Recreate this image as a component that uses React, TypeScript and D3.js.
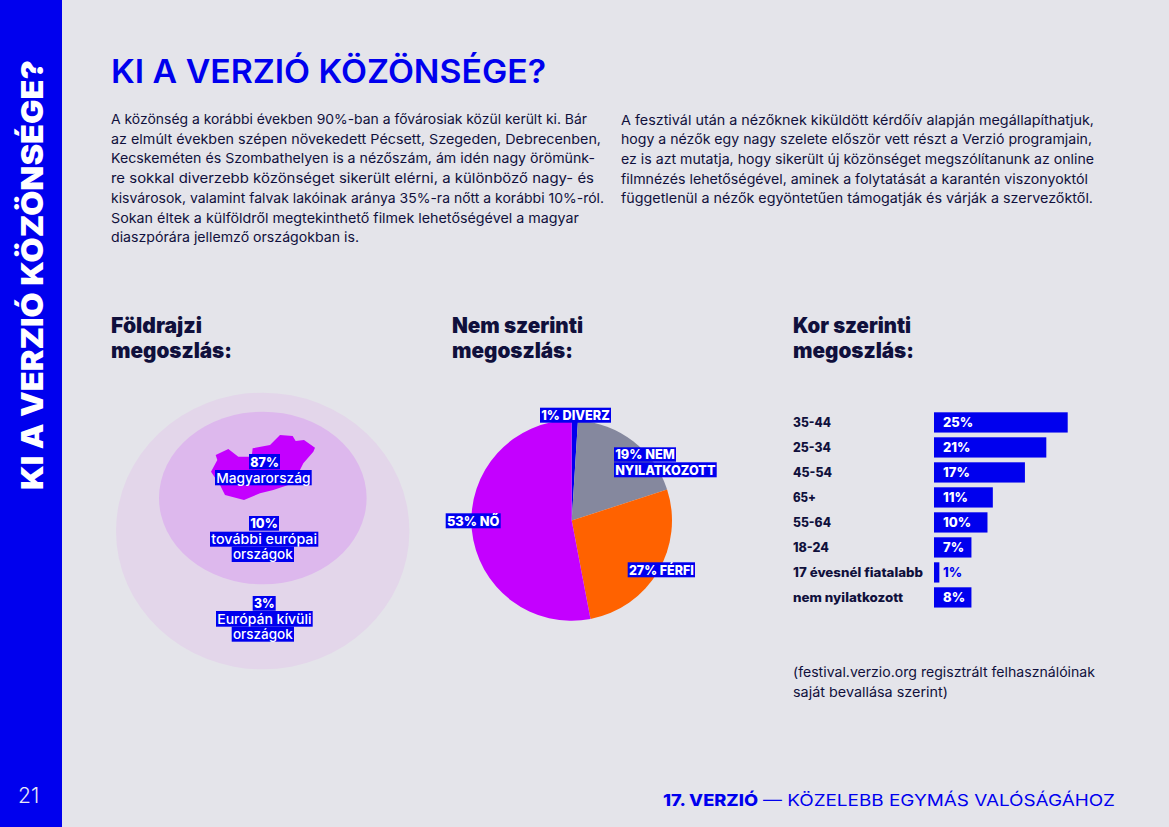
import React from "react";
import * as d3 from "d3";

const BLUE = "#0000EE";
const INK = "#10103C";
const FONT = "Inter, 'Noto Sans', sans-serif";

const leftParagraph: [string, number][] = [
  ["A közönség a korábbi években 90%-ban a fővárosiak közül került ki. Bár", 476],
  ["az elmúlt években szépen növekedett Pécsett, Szegeden, Debrecenben,", 490],
  ["Kecskeméten és Szombathelyen is a nézőszám, ám idén nagy örömünk-", 484],
  ["re sokkal diverzebb közönséget sikerült elérni, a különböző nagy- és", 483],
  ["kisvárosok, valamint falvak lakóinak aránya 35%-ra nőtt a korábbi 10%-ról.", 493],
  ["Sokan éltek a külföldről megtekinthető filmek lehetőségével a magyar", 468],
  ["diaszpórára jellemző országokban is.", 248],
];
const rightParagraph: [string, number][] = [
  ["A fesztivál után a nézőknek kiküldött kérdőív alapján megállapíthatjuk,", 473],
  ["hogy a nézők egy nagy szelete először vett részt a Verzió programjain,", 471],
  ["ez is azt mutatja, hogy sikerült új közönséget megszólítanunk az online", 473],
  ["filmnézés lehetőségével, aminek a folytatását a karantén viszonyoktól", 467],
  ["függetlenül a nézők egyöntetűen támogatják és várják a szervezőktől.", 472],
];

const genderLabels = ["1% DIVERZ", "19% NEM NYILATKOZOTT", "27% FÉRFI", "53% NŐ"];
const genderValues = [1, 19, 27, 53];
const genderColors = [BLUE, "#85889E", "#FF6200", "#C400FF"];

const ageCategories = ["35-44", "25-34", "45-54", "65+", "55-64", "18-24", "17 évesnél fiatalabb", "nem nyilatkozott"];
const ageBarLengths = [25, 21, 17, 11, 10, 7, 1, 7];
const ageLabels = ["25%", "21%", "17%", "11%", "10%", "7%", "1%", "8%"];
const ageNameWidths = [38, 38, 39, 23, 38, 36, 130, 110];

const hungaryOutline: [number, number][] = [
  [333, 275], [352, 240], [347, 225], [385, 207], [415, 230], [455, 230], [458, 205], [510, 195],
  [540, 165], [578, 168], [587, 183], [612, 180], [645, 203], [640, 215], [610, 250], [580, 310],
  [520, 330], [480, 340], [432, 360], [375, 345], [360, 315],
];

const ageX = d3.scaleLinear().domain([0, 25]).range([934, 1067.7]);
const ageY = d3.scaleBand<string>().domain(ageCategories).range([412.3, 607.55]).paddingInner(0.19).paddingOuter(0);

const pieArcs = d3.pie<number>().sort(null)(genderValues);
const arcGen = d3.arc<d3.PieArcDatum<number>>().innerRadius(0).outerRadius(100.3);

const mapX = d3.scaleLinear().domain([0, 3]).range([100, 101]);
const mapY = d3.scaleLinear().domain([0, 3]).range([380, 381]);
const hungaryPath = d3.line<[number, number]>().x((d) => mapX(d[0])).y((d) => mapY(d[1])).curve(d3.curveLinearClosed)(hungaryOutline)!;

function Tag({ x0, x1, y0, y1, text, weight = 800, size = 13.5 }: { x0: number; x1: number; y0: number; y1: number; text: string; weight?: number; size?: number }) {
  const pad = 1.2;
  return (
    <g>
      <rect x={x0} y={y0} width={x1 - x0} height={y1 - y0} fill={BLUE} />
      <text x={x0 + pad} y={(y0 + y1) / 2 + size * 0.36} fontSize={size} fontWeight={weight} fill="#fff" textLength={x1 - x0 - 2 * pad} lengthAdjust="spacingAndGlyphs">{text}</text>
    </g>
  );
}

function Fit({ x, y, w, size, weight = 400, fill = INK, children }: { x: number; y: number; w: number; size: number; weight?: number; fill?: string; children: string }) {
  return <text x={x} y={y} fontSize={size} fontWeight={weight} fill={fill} textLength={w} lengthAdjust="spacingAndGlyphs">{children}</text>;
}

export default function App() {
  return (
    <svg width={1169} height={827} viewBox="0 0 1169 827" style={{ position: "absolute", left: 0, top: 0, display: "block" }} fontFamily={FONT}>
      <rect width={1169} height={827} fill="#E4E4EA" />
      <rect width={62} height={827} fill={BLUE} />
      <text transform="translate(43,490) rotate(-90)" fontSize={30} fontWeight={900} fill="#fff" textLength={430} lengthAdjust="spacingAndGlyphs">KI A VERZIÓ KÖZÖNSÉGE?</text>
      <text x={18} y={803} fontSize={21} fontWeight={300} fill="#E8E8F5">21</text>

      <Fit x={111} y={83} w={435} size={32} weight={600} fill={BLUE}>KI A VERZIÓ KÖZÖNSÉGE?</Fit>
      {leftParagraph.map(([t, w], i) => <Fit key={i} x={111} y={124 + i * 19.7} w={w} size={13.5}>{t}</Fit>)}
      {rightParagraph.map(([t, w], i) => <Fit key={i} x={621} y={124.5 + i * 19.7} w={w} size={13.5}>{t}</Fit>)}

      <Fit x={111} y={333} w={91} size={21} weight={900}>Földrajzi</Fit>
      <Fit x={111} y={358} w={121} size={21} weight={900}>megoszlás:</Fit>
      <Fit x={452} y={333} w={131} size={21} weight={900}>Nem szerinti</Fit>
      <Fit x={452} y={358} w={121} size={21} weight={900}>megoszlás:</Fit>
      <Fit x={793} y={333} w={118} size={21} weight={900}>Kor szerinti</Fit>
      <Fit x={793} y={358} w={121} size={21} weight={900}>megoszlás:</Fit>

      <ellipse cx={262.7} cy={531} rx={146.7} ry={138.3} fill="#E3D6EA" />
      <ellipse cx={262.8} cy={498} rx={103.8} ry={86.3} fill="#DDB8ED" />
      <path d={hungaryPath} fill="#C400FF" />
      <Tag x0={249} x1={280} y0={454} y1={469.3} text="87%" />
      <Tag x0={215} x1={311.7} y0={470} y1={485.3} text="Magyarország" weight={500} />
      <Tag x0={249} x1={279} y0={516} y1={530.7} text="10%" />
      <Tag x0={210} x1={318.3} y0={531.7} y1={546.7} text="további európai" weight={500} />
      <Tag x0={231.7} x1={294} y0={546.7} y1={562} text="országok" weight={500} />
      <Tag x0={252.7} x1={275.7} y0={596} y1={610.7} text="3%" />
      <Tag x0={216} x1={312.7} y0={611} y1={626.7} text="Európán kívüli" weight={500} />
      <Tag x0={231.7} x1={294} y0={626.7} y1={641.7} text="országok" weight={500} />

      <g transform="translate(571.7,520.5)">
        {pieArcs.map((a, i) => <path key={genderLabels[i]} d={arcGen(a)!} fill={genderColors[i]} />)}
      </g>
      <Tag x0={540} x1={611} y0={407.7} y1={422.7} text={genderLabels[0]} />
      <Tag x0={614} x1={676} y0={447.3} y1={461.7} text="19% NEM" />
      <Tag x0={614} x1={716.7} y0={462.3} y1={477.3} text="NYILATKOZOTT" />
      <Tag x0={445.7} x1={500.7} y0={513.3} y1={528.3} text={genderLabels[3]} />
      <Tag x0={627.7} x1={695} y0={562.3} y1={577.3} text={genderLabels[2]} />

      {ageCategories.map((c, i) => {
        const y = ageY(c)!;
        const bw = ageY.bandwidth();
        return (
          <g key={c}>
            <text x={793} y={y + bw / 2 + 4.3} fontSize={12.5} fontWeight={800} fill={INK} textLength={ageNameWidths[i]} lengthAdjust="spacingAndGlyphs">{c}</text>
            <rect x={ageX(0)} y={y} width={ageX(ageBarLengths[i]) - ageX(0)} height={bw} fill={BLUE} />
            <text x={943} y={y + bw / 2 + 4.6} fontSize={13} fontWeight={800} fill={i === 6 ? BLUE : "#fff"}>{ageLabels[i]}</text>
          </g>
        );
      })}

      <Fit x={793} y={677} w={302} size={13.5}>(festival.verzio.org regisztrált felhasználóinak</Fit>
      <Fit x={793} y={697} w={155} size={13.5}>saját bevallása szerint)</Fit>

      <Fit x={663} y={806} w={95} size={16} weight={800} fill={BLUE}>17. VERZIÓ</Fit>
      <Fit x={763} y={806} w={352} size={16} weight={400} fill={BLUE}>— KÖZELEBB EGYMÁS VALÓSÁGÁHOZ</Fit>
    </svg>
  );
}
